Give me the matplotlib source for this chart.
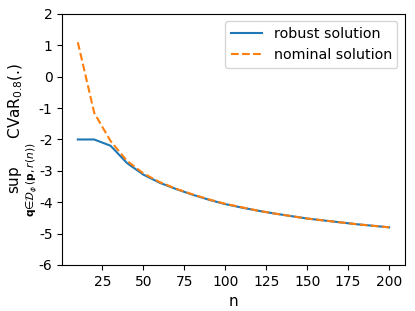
import matplotlib
matplotlib.use("Agg")
import matplotlib.pyplot as plt

n = [10, 20, 30, 40, 50, 60, 70, 80, 90, 100, 110, 120, 130, 140, 150, 160, 170, 180, 190, 200]
robust = [-2.0, -2.0, -2.2, -2.75, -3.12, -3.38, -3.58, -3.76, -3.92, -4.06, -4.17, -4.27, -4.36, -4.44, -4.52, -4.58, -4.64, -4.70, -4.75, -4.80]
nominal = [1.1, -1.15, -2.05, -2.68, -3.08, -3.36, -3.57, -3.75, -3.91, -4.05, -4.16, -4.27, -4.36, -4.44, -4.52, -4.58, -4.64, -4.70, -4.75, -4.80]

plt.rcParams['axes.unicode_minus'] = False
fig, ax = plt.subplots(figsize=(4.15, 3.11), dpi=100)
ax.plot(n, robust, color='#1f77b4', label='robust solution')
ax.plot(n, nominal, color='#ff7f0e', linestyle='--', label='nominal solution')
ax.set_ylim(-6, 2)
ax.set_xticks([25, 50, 75, 100, 125, 150, 175, 200])
ax.set_xlabel('n', fontsize=11)
ax.set_ylabel(r'$\sup_{\mathbf{q}\in\mathcal{D}_\phi(\mathbf{p},r(n))}$ CVaR$_{0.8}$(.)', fontsize=11, labelpad=0)
ax.legend(fontsize=10.3, loc='upper right', handlelength=2.2)
fig.subplots_adjust(left=0.15, right=0.975, top=0.955, bottom=0.148)
fig.savefig('out.png', dpi=100)
